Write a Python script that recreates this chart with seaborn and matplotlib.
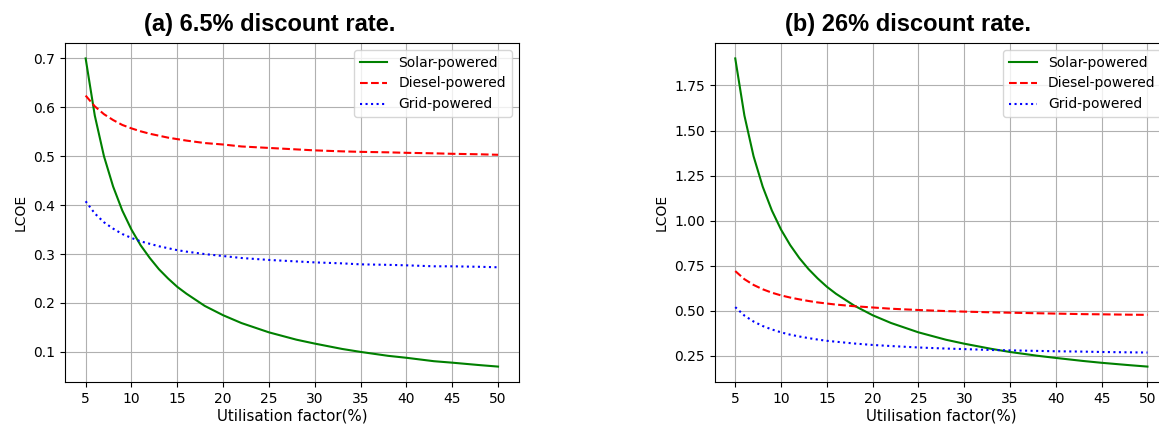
import matplotlib
matplotlib.use("Agg")
import matplotlib.pyplot as plt
import seaborn as sns
import pandas as pd

util = [5, 6, 7, 8, 9, 10, 11, 12, 13, 14, 15, 16, 18, 20, 22, 25, 28, 30,
        33, 35, 38, 40, 43, 45, 48, 50]

# (a) 6.5% discount rate
solar_a = [0.700, 0.583, 0.500, 0.438, 0.389, 0.350, 0.318, 0.292, 0.269, 0.250,
           0.233, 0.219, 0.194, 0.175, 0.159, 0.140, 0.125, 0.117, 0.106, 0.100,
           0.092, 0.088, 0.081, 0.078, 0.073, 0.070]
diesel_a = [0.624, 0.602, 0.586, 0.574, 0.564, 0.557, 0.551, 0.546, 0.542, 0.538,
            0.535, 0.532, 0.527, 0.524, 0.520, 0.517, 0.514, 0.512, 0.510, 0.509,
            0.508, 0.507, 0.506, 0.505, 0.504, 0.503]
grid_a = [0.408, 0.383, 0.365, 0.352, 0.341, 0.333, 0.326, 0.321, 0.316, 0.312,
          0.308, 0.305, 0.300, 0.296, 0.292, 0.288, 0.285, 0.283, 0.281, 0.279,
          0.278, 0.277, 0.275, 0.275, 0.274, 0.273]

# (b) 26% discount rate
solar_b = [1.900, 1.583, 1.357, 1.188, 1.056, 0.950, 0.864, 0.792, 0.731, 0.679,
           0.633, 0.594, 0.528, 0.475, 0.432, 0.380, 0.339, 0.317, 0.288, 0.271,
           0.250, 0.238, 0.221, 0.211, 0.198, 0.190]
diesel_b = [0.720, 0.675, 0.643, 0.619, 0.600, 0.585, 0.573, 0.563, 0.554, 0.546,
            0.540, 0.534, 0.525, 0.518, 0.511, 0.504, 0.498, 0.495, 0.491, 0.489,
            0.486, 0.484, 0.481, 0.480, 0.478, 0.477]
grid_b = [0.520, 0.473, 0.440, 0.415, 0.396, 0.380, 0.367, 0.357, 0.348, 0.340,
          0.333, 0.328, 0.318, 0.310, 0.304, 0.296, 0.290, 0.287, 0.282, 0.280,
          0.277, 0.275, 0.273, 0.271, 0.269, 0.268]

x_ticks = [5, 10, 15, 20, 25, 30, 35, 40, 45, 50]
titles = ["(a) 6.5% discount rate.", "(b) 26% discount rate."]

series_style = [
    ("Solar-powered", "green", "-"),
    ("Diesel-powered", "red", "--"),
    ("Grid-powered", "blue", ":"),
]

fig = plt.figure(figsize=(11.59, 4.25), dpi=100)
ax_a = fig.add_axes([0.0561, 0.1012, 0.3914, 0.7976])
ax_b = fig.add_axes([0.6166, 0.1012, 0.3912, 0.7976])

panels = [
    (ax_a, [solar_a, diesel_a, grid_a]),
    (ax_b, [solar_b, diesel_b, grid_b]),
]

for ax, values in panels:
    for (name, color, ls), vals in zip(series_style, values):
        df = pd.DataFrame({"util": util, "lcoe": vals})
        sns.lineplot(data=df, x="util", y="lcoe", ax=ax, color=color,
                     linestyle=ls, linewidth=1.5, label=name)
    ax.set_xticks(x_ticks)
    ax.grid(True, color="#b0b0b0", linewidth=0.8)
    ax.set_axisbelow(True)
    ax.set_xlabel("Utilisation factor(%)", fontsize=10.8, labelpad=2)
    ax.set_ylabel("LCOE", fontsize=10)
    ax.tick_params(labelsize=10)
    ax.legend(loc="upper right", fontsize=10)

# panel captions sit a little left of the axes centres
fig.text(270 / 1159, 1 - 24 / 425, titles[0], ha="center", va="center",
         fontsize=17, fontweight="bold", family=["Liberation Sans", "DejaVu Sans"])
fig.text(908 / 1159, 1 - 24 / 425, titles[1], ha="center", va="center",
         fontsize=17, fontweight="bold", family=["Liberation Sans", "DejaVu Sans"])

fig.savefig("out.png", dpi=100)
